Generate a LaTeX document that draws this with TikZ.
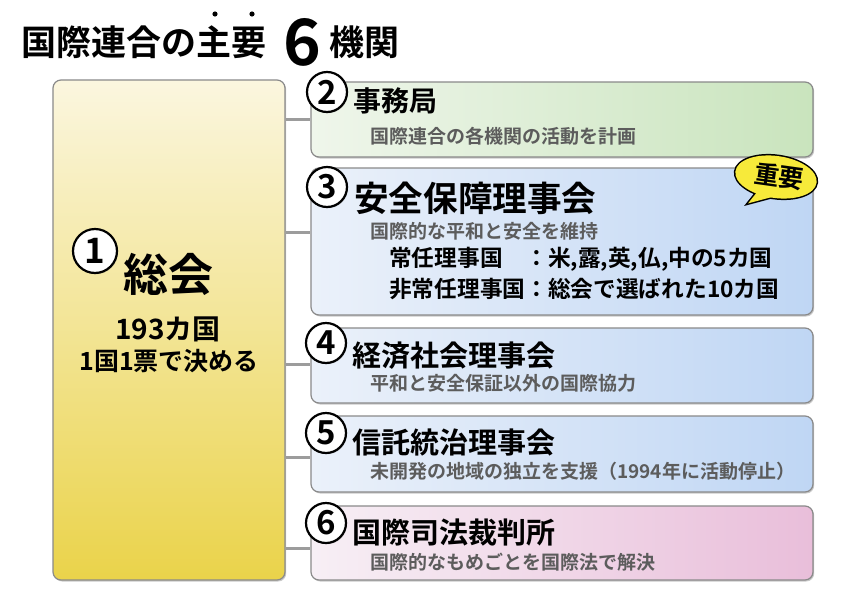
\documentclass[tikz,border=0pt]{standalone}
\usepackage{fontspec}
\setmainfont{Noto Sans CJK JP}[BoldFont={* Bold}]
\usetikzlibrary{shadows,calc}
\definecolor{bordergray}{HTML}{8A8A8A}
\definecolor{conngray}{HTML}{9C9C9C}
\definecolor{subgray}{HTML}{5C5C5C}
\definecolor{yellowA}{HTML}{FBF6DF}
\definecolor{yellowB}{HTML}{EAD34A}
\definecolor{greenA}{HTML}{EFF6EB}
\definecolor{greenB}{HTML}{C9E4BD}
\definecolor{blueA}{HTML}{EBF1FA}
\definecolor{blueB}{HTML}{BFD6F4}
\definecolor{pinkA}{HTML}{F7EFF5}
\definecolor{pinkB}{HTML}{E9BEDA}
\definecolor{bubbleY}{HTML}{F7EA3A}
\newcommand\mysz[1]{\fontsize{#1}{#1}\selectfont}
\tikzset{
  box/.style={draw=bordergray, line width=1.2pt, rounded corners=8pt, inner sep=0pt,
    drop shadow={shadow xshift=1.2pt, shadow yshift=-1.5pt, opacity=.35, fill=black!60}},
  rbox/.style={box, minimum width=502pt},
  greenbox/.style={rbox, left color=greenA, right color=greenB},
  bluebox/.style={rbox, left color=blueA, right color=blueB},
  pinkbox/.style={rbox, left color=pinkA, right color=pinkB},
  numcirc/.style={circle, draw=black, line width=2.2pt, fill=white, minimum size=40pt, inner sep=0pt,
    font=\bfseries\mysz{33},
    drop shadow={shadow xshift=1pt, shadow yshift=-1.2pt, opacity=.3, fill=black!60}},
  ttl/.style={anchor=west, inner sep=0pt, font=\bfseries\mysz{29}},
  sub/.style={anchor=west, inner sep=0pt, text=subgray, font=\bfseries\mysz{19}},
  member/.style={anchor=west, inner sep=0pt, font=\bfseries\mysz{22.7}},
  conn/.style={draw=conngray, line width=3pt},
}
\begin{document}
\begin{tikzpicture}[x=1pt,y=-1pt]
\useasboundingbox (0,0) rectangle (849,600);
\fill[white] (0,0) rectangle (849,600);

% title
\node[anchor=west, inner sep=0pt, font=\bfseries\mysz{35}] (t1) at (21,42) {国際連合の主要};
\node[inner sep=0pt, font=\bfseries\mysz{64}] (t6) at (302.5,42) {6};
\node[anchor=west, inner sep=0pt, font=\bfseries\mysz{35}] (t2) at (329,42) {機関};
\fill (215,14) circle (2.6);
\fill (252,14) circle (2.6);

% connector heights
\coordinate (y2) at (0,119);
\coordinate (y3) at (0,232);
\coordinate (y4) at (0,364);
\coordinate (y5) at (0,457);
\coordinate (y6) at (0,548);

% general assembly
\node[box, minimum width=232pt, minimum height=500pt, top color=yellowA, bottom color=yellowB] (ga) at (169,330) {};

% right boxes
\node[greenbox, minimum height=75pt] (b2) at (562,119.5) {};
\node[bluebox, minimum height=147pt] (b3) at (562,241.5) {};
\node[bluebox, minimum height=75pt] (b4) at (562,365.5) {};
\node[bluebox, minimum height=76pt] (b5) at (562,454) {};
\node[pinkbox, minimum height=74pt] (b6) at (562,543) {};

% connectors
\draw[conn] (ga.east |- y2) -- (b2.west |- y2);
\draw[conn] (ga.east |- y3) -- (b3.west |- y3);
\draw[conn] (ga.east |- y4) -- (b4.west |- y4);
\draw[conn] (ga.east |- y5) -- (b5.west |- y5);
\draw[conn] (ga.east |- y6) -- (b6.west |- y6);

% general assembly content
\node[numcirc, minimum size=44pt, font=\bfseries\mysz{35}] (c1) at (95,251) {1};
\node[inner sep=0pt, font=\bfseries\mysz{45}] (gat) at (168,274) {総会};
\node[inner sep=0pt, font=\bfseries\mysz{28}] (ga1) at (168,329) {193カ国};
\node[inner sep=0pt, font=\bfseries\mysz{25}] (ga2) at (169,361) {1国1票で決める};

% box 2
\node[numcirc] (c2) at (327,92) {2};
\node[ttl, font=\bfseries\mysz{28}] (h2) at (353,101) {事務局};
\node[sub] (s2) at (370,136) {国際連合の各機関の活動を計画};

% box 3
\node[numcirc] (c3) at (327,187) {3};
\node[ttl, font=\bfseries\mysz{34.6}] (h3) at (354,198) {安全保障理事会};
\node[sub] (s3) at (370,231) {国際的な平和と安全を維持};
\node[member] (m1) at (389,259) {常任理事国　：米,露,英,仏,中の5カ国};
\node[member] (m2) at (389,289) {非常任理事国：総会で選ばれた10カ国};

% box 4
\node[numcirc] (c4) at (326,343) {4};
\node[ttl] (h4) at (352,356) {経済社会理事会};
\node[sub] (s4) at (370,383) {平和と安全保証以外の国際協力};

% box 5
\node[numcirc] (c5) at (326,433) {5};
\node[ttl] (h5) at (352,442) {信託統治理事会};
\node[sub] (s5) at (370,471) {未開発の地域の独立を支援（1994年に活動停止）};

% box 6
\node[numcirc] (c6) at (326,523) {6};
\node[ttl] (h6) at (352,533) {国際司法裁判所};
\node[sub] (s6) at (370,562) {国際的なもめごとを国際法で解決};

% bubble
\begin{scope}[rotate around={-8:(776,177)}]
  \draw[line width=3pt] (762,190) -- (752,207) -- (778,196) -- cycle;
  \draw[line width=3pt] (776,177) ellipse [x radius=41, y radius=21];
  \fill[bubbleY] (762,190) -- (752,207) -- (778,196) -- cycle;
  \fill[bubbleY] (776,177) ellipse [x radius=41, y radius=21];
  \node[inner sep=0pt, font=\bfseries\mysz{25}, rotate=-8] (imp) at (779,176) {重要};
\end{scope}
\end{tikzpicture}
\end{document}
